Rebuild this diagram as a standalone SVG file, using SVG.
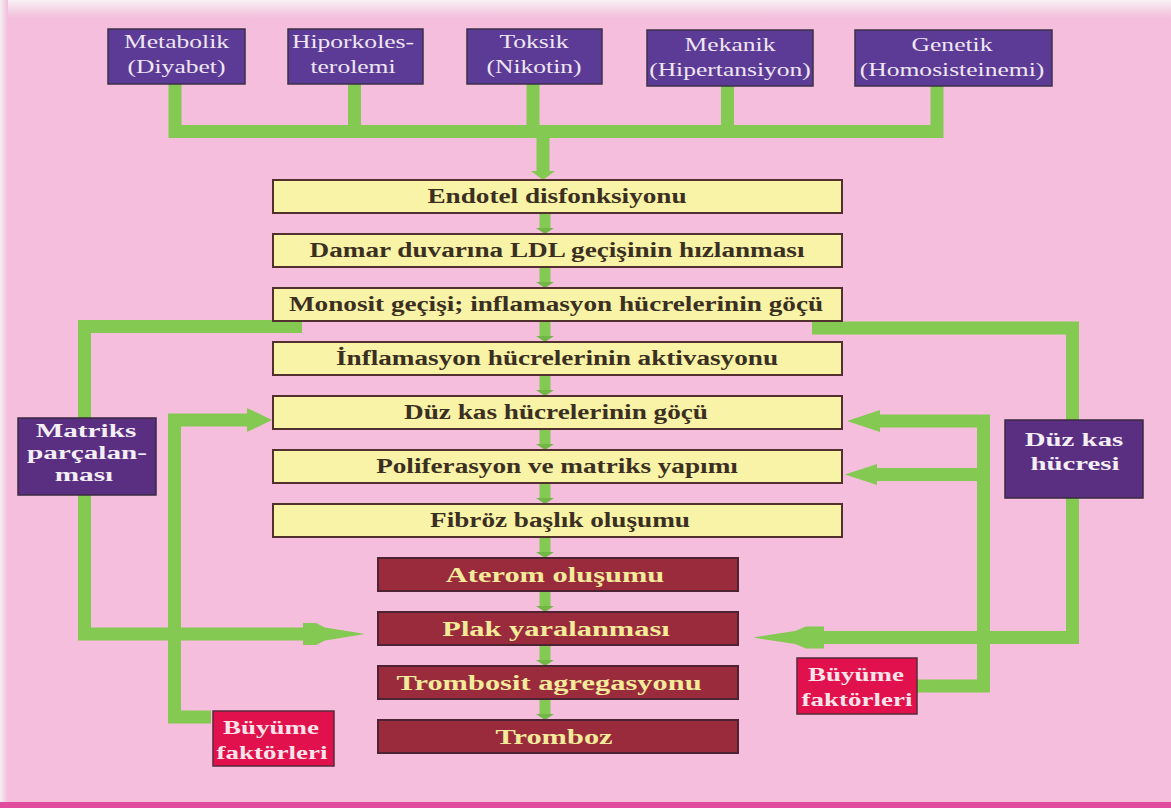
<svg xmlns="http://www.w3.org/2000/svg" width="1171" height="808" viewBox="0 0 1171 808">
<defs>
<linearGradient id="topfade" x1="0" y1="0" x2="0" y2="1">
<stop offset="0" stop-color="#f6f0f3"/><stop offset="1" stop-color="#f4bedc"/>
</linearGradient>
<linearGradient id="leftfade" x1="0" y1="0" x2="1" y2="0">
<stop offset="0" stop-color="#f4eff2"/><stop offset="1" stop-color="#f4bedc"/>
</linearGradient>
</defs>
<style>
.top rect{fill:#5c3b96;stroke:#3b3148;stroke-width:1.5}
.top text{font-family:"Liberation Serif","Times New Roman",serif;font-size:18px;fill:#efe6f2;text-anchor:middle}
.y rect{fill:#f8f3a6;stroke:#52302e;stroke-width:2}
.y text{font-family:"Liberation Serif","Times New Roman",serif;font-weight:bold;font-size:20px;fill:#3b2f22;text-anchor:middle}
.r rect{fill:#9a2b3d;stroke:#4d2233;stroke-width:2}
.r text{font-family:"Liberation Serif","Times New Roman",serif;font-weight:bold;font-size:21px;fill:#f3ea9a;text-anchor:middle}
.side rect{fill:#5a2e80;stroke:#3a2a40;stroke-width:1.5}
.side text{font-family:"Liberation Serif","Times New Roman",serif;font-weight:bold;font-size:19.5px;fill:#f4eef6;text-anchor:middle}
.bf rect{fill:#e0114c;stroke:#5a2a3a;stroke-width:1.5}
.bf text{font-family:"Liberation Serif","Times New Roman",serif;font-weight:bold;font-size:19px;fill:#fde4ea;text-anchor:middle}
.ln{fill:none;stroke:#84c951;stroke-width:13}
.sm{fill:none;stroke:#84c951;stroke-width:11}
.hd{fill:#84c951}
.hs{fill:#72b648}
</style>
<rect width="1171" height="808" fill="#f4bedc"/>
<rect width="1171" height="18" fill="url(#topfade)"/>
<rect width="8" height="808" fill="url(#leftfade)"/>
<rect y="802" width="1171" height="6" fill="#e24c9e"/>

<g id="connectors">
<path class="ln" d="M175 84 V131.5 H937 V86"/>
<path class="ln" d="M354.5 84 V131.5"/>
<path class="ln" d="M533 84 V131.5"/>
<path class="ln" d="M727.5 86 V131.5"/>
<path class="ln" d="M543 131 V172"/>
<polygon class="hd" points="531,171 555,171 543,180"/>
<path class="sm" d="M545 213 V229"/><polygon class="hs" points="536,228 554,228 545,234"/>
<path class="sm" d="M545 267 V283"/><polygon class="hs" points="536,282 554,282 545,288"/>
<path class="sm" d="M545 321 V337"/><polygon class="hs" points="536,336 554,336 545,342"/>
<path class="sm" d="M545 375 V391"/><polygon class="hs" points="536,390 554,390 545,396"/>
<path class="sm" d="M545 429 V445"/><polygon class="hs" points="536,444 554,444 545,450"/>
<path class="sm" d="M545 483 V499"/><polygon class="hs" points="536,498 554,498 545,504"/>
<path class="sm" d="M545 537 V553"/><polygon class="hs" points="536,552 554,552 545,558"/>
<path class="sm" d="M545 591 V607"/><polygon class="hs" points="536,606 554,606 545,612"/>
<path class="sm" d="M545 645 V661"/><polygon class="hs" points="536,660 554,660 545,666"/>
<path class="sm" d="M545 699 V715"/><polygon class="hs" points="536,714 554,714 545,720"/>
<path class="ln" d="M302 326.5 H84.5 V418"/>
<path class="ln" d="M84.5 495 V634 H305"/>
<polygon class="hd" points="365,634 325,627.5 316,623 303,623 303,645 316,645 325,640.5"/>
<path class="ln" d="M211 717 H174.5 V420 H250"/>
<polygon class="hd" points="272,420 247,408 247,432"/>
<path class="ln" d="M812 328 H1072.5 V420"/>
<path class="ln" d="M1072.5 498 V637.5 H822"/>
<polygon class="hd" points="753,637.5 795,631 806,626.5 824,626.5 824,648.5 806,648.5 795,644"/>
<path class="ln" d="M917 686 H983.5 V421 H878"/>
<path class="ln" d="M983.5 474.5 H876"/>
<polygon class="hd" points="847,421 880,410 880,432"/>
<polygon class="hd" points="845,474.5 877,464 877,485"/>
</g>

<g id="n-metabolik" class="top"><rect x="108" y="29" width="137" height="55"/>
<text transform="translate(176.5,48) scale(1.42,1)">Metabolik</text>
<text transform="translate(176.5,73) scale(1.42,1)">(Diyabet)</text></g>
<g id="n-hiporkol" class="top"><rect x="288" y="29" width="135" height="55"/>
<text transform="translate(353,48) scale(1.42,1)">Hiporkoles-</text>
<text transform="translate(353,73) scale(1.42,1)">terolemi</text></g>
<g id="n-toksik" class="top"><rect x="467" y="29" width="135" height="55"/>
<text transform="translate(534,48) scale(1.42,1)">Toksik</text>
<text transform="translate(534,73) scale(1.42,1)">(Nikotin)</text></g>
<g id="n-mekanik" class="top"><rect x="647" y="30" width="166" height="56"/>
<text transform="translate(730,51) scale(1.42,1)">Mekanik</text>
<text transform="translate(730,76) scale(1.42,1)">(Hipertansiyon)</text></g>
<g id="n-genetik" class="top"><rect x="855" y="30" width="197" height="56"/>
<text transform="translate(952,51) scale(1.42,1)">Genetik</text>
<text transform="translate(952,76) scale(1.42,1)">(Homosisteinemi)</text></g>

<g id="n-endotel" class="y"><rect x="273" y="180" width="569" height="33"/>
<text transform="translate(557,203) scale(1.36,1)">Endotel disfonksiyonu</text></g>
<g id="n-damar" class="y"><rect x="273" y="234" width="569" height="33"/>
<text transform="translate(557,257) scale(1.36,1)">Damar duvarına LDL geçişinin hızlanması</text></g>
<g id="n-monosit" class="y"><rect x="273" y="288" width="569" height="33"/>
<text transform="translate(556,311) scale(1.36,1)">Monosit geçişi; inflamasyon hücrelerinin göçü</text></g>
<g id="n-inflam" class="y"><rect x="273" y="342" width="569" height="33"/>
<text transform="translate(557,365) scale(1.36,1)">İnflamasyon hücrelerinin aktivasyonu</text></g>
<g id="n-duzkasgocu" class="y"><rect x="273" y="396" width="569" height="33"/>
<text transform="translate(556,419) scale(1.36,1)">Düz kas hücrelerinin göçü</text></g>
<g id="n-polif" class="y"><rect x="273" y="450" width="569" height="33"/>
<text transform="translate(557,473) scale(1.36,1)">Poliferasyon ve matriks yapımı</text></g>
<g id="n-fibroz" class="y"><rect x="273" y="504" width="569" height="33"/>
<text transform="translate(560,527) scale(1.36,1)">Fibröz başlık oluşumu</text></g>

<g id="n-aterom" class="r"><rect x="378" y="558" width="360" height="33"/>
<text transform="translate(555,582) scale(1.45,1)">Aterom oluşumu</text></g>
<g id="n-plak" class="r"><rect x="378" y="612" width="360" height="33"/>
<text transform="translate(556,636) scale(1.45,1)">Plak yaralanması</text></g>
<g id="n-trombosit" class="r"><rect x="378" y="666" width="360" height="33"/>
<text transform="translate(549,690) scale(1.45,1)">Trombosit agregasyonu</text></g>
<g id="n-tromboz" class="r"><rect x="378" y="720" width="360" height="33"/>
<text transform="translate(554,744) scale(1.45,1)">Tromboz</text></g>

<g id="n-matriks" class="side"><rect x="18" y="418" width="138" height="77"/>
<text transform="translate(86,437) scale(1.5,1)">Matriks</text>
<text transform="translate(87,459) scale(1.5,1)">parçalan-</text>
<text transform="translate(84,481) scale(1.5,1)">ması</text></g>
<g id="n-duzkashucresi" class="side"><rect x="1005" y="420" width="138" height="78"/>
<text transform="translate(1074,446) scale(1.48,1)">Düz kas</text>
<text transform="translate(1075,470) scale(1.48,1)">hücresi</text></g>

<g id="n-buyume-left" class="bf"><rect x="213" y="711" width="121" height="55"/>
<text transform="translate(271,734) scale(1.42,1)">Büyüme</text>
<text transform="translate(272,759) scale(1.42,1)">faktörleri</text></g>
<g id="n-buyume-right" class="bf"><rect x="797" y="658" width="120" height="56"/>
<text transform="translate(856,681) scale(1.42,1)">Büyüme</text>
<text transform="translate(857,706) scale(1.42,1)">faktörleri</text></g>
</svg>
